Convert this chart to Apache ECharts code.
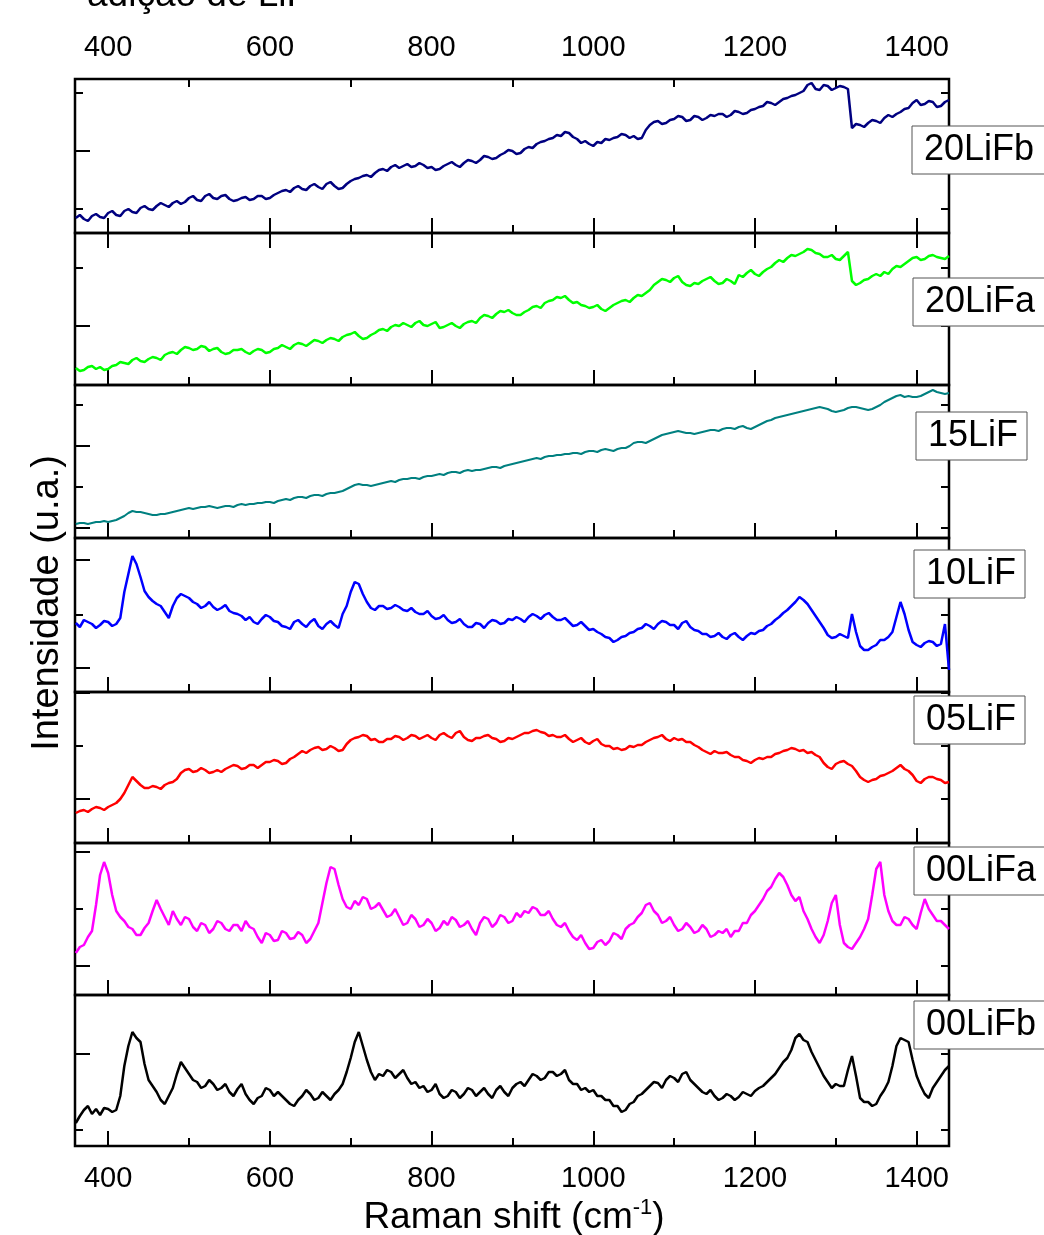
<!DOCTYPE html>
<html>
<head>
<meta charset="utf-8">
<script src="https://cdn.jsdelivr.net/npm/echarts@6/dist/echarts.min.js"></script>
<style>
    html, body { margin: 0; padding: 0; background: #fff; }
    #chart { width: 1044px; height: 1235px; }
</style>
</head>
<body>
<div id="chart"></div>
<script>
// Raman shift (cm-1), shared by all spectra
var shift = [
    360,365,370,375,380,385,390,395,400,405,410,415,420,425,430,435,440,445,450,455,
    460,465,470,475,480,485,490,495,500,505,510,515,520,525,530,535,540,545,550,555,
    560,565,570,575,580,585,590,595,600,605,610,615,620,625,630,635,640,645,650,655,
    660,665,670,675,680,685,690,695,700,705,710,715,720,725,730,735,740,745,750,755,
    760,765,770,775,780,785,790,795,800,805,810,815,820,825,830,835,840,845,850,855,
    860,865,870,875,880,885,890,895,900,905,910,915,920,925,930,935,940,945,950,955,
    960,965,970,975,980,985,990,995,1000,1005,1010,1015,1020,1025,1030,1035,1040,1045,1050,1055,
    1060,1065,1070,1075,1080,1085,1090,1095,1100,1105,1110,1115,1120,1125,1130,1135,1140,1145,1150,1155,
    1160,1165,1170,1175,1180,1185,1190,1195,1200,1205,1210,1215,1220,1225,1230,1235,1240,1245,1250,1255,
    1260,1265,1270,1275,1280,1285,1290,1295,1300,1305,1310,1315,1320,1325,1330,1335,1340,1345,1350,1355,
    1360,1365,1370,1375,1380,1385,1390,1395,1400,1405,1410,1415,1420,1425,1430,1435,1440
];

// intensities (u.a.), one list per sample; each panel has its own scale
var i20LiFb = [
    15,18,14,12,17,19,16,15,20,22,18,17,22,24,21,20,25,27,24,23,
    27,30,28,26,30,32,29,31,35,37,33,32,37,39,35,34,37,38,34,32,
    33,35,36,33,34,37,37,34,35,38,40,42,43,41,45,47,44,43,47,49,
    46,44,49,51,47,44,45,49,52,54,55,57,58,56,60,63,64,62,66,68,
    65,67,69,66,67,70,68,65,66,63,64,67,69,71,68,66,70,73,72,70,
    73,77,76,74,75,78,80,83,82,79,80,84,86,85,89,91,92,94,95,98,
    97,101,100,96,94,90,92,89,87,91,90,94,93,95,96,99,98,95,97,94,
    95,103,108,111,112,109,110,113,114,117,116,112,113,117,116,113,115,118,117,119,
    119,116,118,122,121,119,120,123,124,126,127,131,130,128,131,134,135,137,138,140,
    142,148,150,144,143,148,147,143,145,147,146,144,105,109,108,106,110,113,112,110,
    115,118,116,119,121,124,125,130,133,128,129,132,131,126,127,131,133
];
var i20LiFa = [
    17,14,15,18,19,16,18,15,16,19,20,23,22,21,25,27,24,23,26,28,
    27,25,30,32,33,31,35,38,37,35,36,39,38,34,36,37,33,31,32,35,
    35,36,33,31,34,36,35,32,33,36,37,40,38,36,40,42,41,39,42,45,
    44,42,45,47,46,44,48,50,51,53,49,46,47,50,52,55,56,54,58,60,
    59,62,60,58,62,64,60,59,61,63,57,58,60,62,59,57,61,63,64,62,
    67,70,69,67,71,74,73,75,72,70,70,73,75,78,79,77,82,84,85,88,
    87,89,85,82,83,80,79,77,78,80,76,74,77,80,82,84,85,83,87,90,
    89,92,95,100,103,106,105,103,107,109,103,100,99,102,101,104,106,108,104,101,
    102,106,104,101,110,108,112,115,111,109,113,116,118,122,125,123,127,130,129,131,
    133,136,135,132,131,128,128,130,126,125,129,133,104,100,102,105,106,109,111,109,
    113,111,116,119,118,121,124,127,128,125,126,129,130,128,127,126,129
];
var i15LiF = [
    14,15,15,14,15,16,16,17,16,17,18,20,22,25,27,26,26,25,24,23,
    23,24,24,25,26,27,28,29,30,29,30,31,31,32,31,30,31,32,32,31,
    33,34,33,34,34,35,35,36,36,35,37,38,39,38,40,41,41,40,42,43,
    43,42,44,45,45,46,47,49,51,53,54,53,53,52,53,54,55,56,57,56,
    58,59,59,60,60,59,61,62,62,63,64,63,65,66,66,65,67,68,67,68,
    68,69,70,71,71,70,72,73,74,75,76,77,78,79,80,79,81,82,82,83,
    83,84,84,85,85,84,86,87,87,86,88,89,88,87,89,90,90,92,95,96,
    96,95,97,99,101,103,104,105,106,107,106,105,105,104,105,106,107,108,108,107,
    109,110,110,109,111,112,110,109,111,113,115,117,118,120,121,122,123,124,125,126,
    127,128,129,130,131,130,129,127,126,127,128,130,131,131,130,129,128,129,131,133,
    136,138,140,142,143,141,142,141,141,142,144,146,148,146,145,144,145
];
var i10LiF = [
    69,65,72,70,68,64,67,71,70,66,68,74,100,118,136,128,115,101,95,91,
    88,86,80,74,86,94,98,96,94,90,88,84,86,90,85,82,84,87,81,79,
    78,76,72,75,70,68,73,77,75,71,70,66,65,63,70,72,68,65,70,73,
    66,63,68,71,67,64,78,86,100,110,108,98,90,84,82,86,86,83,84,87,
    85,82,81,84,80,78,78,81,76,73,74,77,72,69,70,73,68,65,65,69,
    68,64,69,72,71,68,69,73,72,75,73,70,75,78,76,73,77,79,75,72,
    72,74,70,66,67,70,66,62,63,60,58,55,54,50,52,55,56,59,60,63,
    64,68,66,63,68,71,70,67,67,63,69,71,65,62,61,58,58,55,56,59,
    55,53,57,59,55,52,56,59,58,61,62,66,68,72,75,79,82,86,90,95,
    92,88,82,76,70,64,57,54,55,58,56,54,78,60,46,42,42,45,47,52,
    52,55,60,75,90,78,62,50,47,45,49,51,50,46,48,68,22
];
var i05LiF = [
    30,32,33,31,34,36,35,33,36,38,40,44,50,58,66,62,58,55,55,57,
    56,54,58,60,61,64,70,73,74,71,72,75,73,70,71,73,71,74,76,78,
    77,74,75,78,78,75,78,81,81,83,82,79,80,84,86,89,92,90,93,95,
    96,93,94,97,95,92,93,99,103,105,106,108,107,103,104,101,101,104,104,107,
    106,103,105,108,107,104,106,108,105,103,108,110,107,105,110,112,106,103,102,105,
    105,107,108,105,104,101,102,105,104,106,108,110,110,112,113,111,110,107,108,106,
    106,108,104,101,103,105,101,99,102,104,99,97,97,94,95,93,94,97,96,98,
    98,101,103,105,106,108,104,102,105,103,104,101,101,98,96,93,91,89,92,90,
    90,91,88,86,86,83,82,80,83,85,84,86,86,89,90,92,93,95,94,92,
    93,90,91,88,86,80,76,74,79,81,82,79,77,72,66,63,61,63,64,67,
    68,70,72,75,78,74,72,68,62,60,64,66,66,64,63,60,61
];
var i00LiFa = [
    42,48,50,58,64,90,120,133,122,100,84,78,74,68,66,60,60,67,72,84,
    95,86,78,70,84,76,70,78,76,68,64,72,70,62,66,74,72,66,64,70,
    70,64,74,68,66,58,52,62,60,54,55,64,62,56,57,63,60,52,56,64,
    72,92,112,128,126,110,96,88,86,94,90,98,96,86,88,92,85,78,80,86,
    78,70,72,80,76,68,70,76,72,64,67,74,70,78,75,68,70,74,66,60,
    72,78,76,68,72,80,78,72,74,82,78,84,82,88,86,80,80,84,76,70,
    68,72,64,58,55,60,52,46,47,53,55,50,54,62,60,56,66,70,72,78,
    82,90,92,84,80,72,74,78,70,64,66,72,68,62,64,70,66,58,60,64,
    62,66,58,64,64,72,72,80,84,90,96,104,108,116,122,118,110,100,94,98,
    84,76,66,58,52,60,74,92,100,70,52,48,46,52,58,66,76,100,126,133,
    100,84,74,70,70,78,76,70,66,82,96,86,80,74,74,70,66
];
var i00LiFb = [
    23,30,36,40,32,37,31,38,37,34,36,50,80,100,114,108,104,82,66,60,
    54,46,42,50,58,72,84,78,72,66,64,58,60,66,62,56,58,62,54,50,
    57,62,52,46,42,48,50,58,56,50,54,50,46,42,40,46,50,56,52,46,
    48,54,50,46,52,56,62,74,88,104,114,100,86,74,66,72,70,76,74,68,
    72,76,68,62,64,58,60,54,56,62,52,48,50,56,54,48,52,58,56,50,
    54,58,52,48,56,60,54,50,58,62,64,60,66,72,70,66,68,74,74,70,
    72,76,66,62,62,56,58,54,56,50,50,46,46,40,40,34,36,42,44,50,
    52,56,60,64,63,58,66,70,68,64,72,74,66,62,58,54,52,56,50,46,
    48,52,50,46,49,54,52,50,55,58,60,64,68,72,78,84,88,96,108,112,
    106,104,94,86,78,70,64,58,62,60,60,76,90,70,48,44,44,40,42,50,
    56,64,80,100,108,106,104,86,70,60,52,48,58,64,70,76,80
];

var sampleNames = ['20LiFb', '20LiFa', '15LiF', '10LiF', '05LiF', '00LiFa', '00LiFb'];
var sampleData = [i20LiFb, i20LiFa, i15LiF, i10LiF, i05LiF, i00LiFa, i00LiFb];
var sampleColors = ['#000080', '#00ff00', '#008080', '#0000ff', '#ff0000', '#ff00ff', '#000000'];

// x ticks
var xMajorTicks = [400, 600, 800, 1000, 1200, 1400];
var xMinorTicks = [500, 700, 900, 1100, 1300];
// y ticks per panel (same units as the intensities)
var yMajorTicks = [[82], [59], [10, 92], [24, 132], [44, 150], [29, 143], [92]];
var yMinorTicks = [[24, 140], [117], [51, 133], [77], [97], [86], [16]];

// panel layout
var panelTop = [79, 233, 385, 538, 692, 843, 995];
var panelHeight = [154, 152, 153, 154, 151, 152, 151];
var boxLeft = [912, 913, 916, 914, 914, 914, 914];
var boxTop = [126, 278, 412, 550, 696, 847, 1001];

var FONT = '"Liberation Sans", Arial, sans-serif';
var tickStyle = { color: '#000', width: 2 };

var grids = [], xAxes = [], yAxes = [], series = [], graphics = [];

sampleNames.forEach(function (name, i) {
    grids.push({
        left: 75, width: 874, top: panelTop[i], height: panelHeight[i],
        show: true, borderColor: '#000', borderWidth: 2.5, backgroundColor: 'transparent'
    });

    function xAxis(position, ticks, len, labels) {
        return {
            gridIndex: i, type: 'value', position: position, min: 359, max: 1440,
            axisLine: { show: false }, splitLine: { show: false },
            axisTick: { inside: true, length: len, customValues: ticks, lineStyle: tickStyle },
            axisLabel: {
                show: labels, customValues: ticks, fontSize: 29, color: '#000',
                fontFamily: FONT, margin: position === 'top' ? 17 : 18,
                formatter: function (v) { return String(v); }
            }
        };
    }
    var xIndex = xAxes.length;
    xAxes.push(xAxis('bottom', xMajorTicks, 15, i === sampleNames.length - 1));
    xAxes.push(xAxis('bottom', xMinorTicks, 8, false));
    if (i === 0) {
        xAxes.push(xAxis('top', xMajorTicks, 15, true));
        xAxes.push(xAxis('top', xMinorTicks, 8, false));
    }

    function yAxis(position, ticks, len) {
        return {
            gridIndex: i, type: 'value', position: position, min: 0, max: panelHeight[i],
            axisLine: { show: false }, splitLine: { show: false }, axisLabel: { show: false },
            axisTick: { inside: true, length: len, customValues: ticks, lineStyle: tickStyle }
        };
    }
    var yIndex = yAxes.length;
    yAxes.push(yAxis('left', yMajorTicks[i], 15));
    yAxes.push(yAxis('left', yMinorTicks[i], 8));
    yAxes.push(yAxis('right', yMajorTicks[i].concat(yMinorTicks[i]), 8));

    series.push({
        name: name, type: 'line', xAxisIndex: xIndex, yAxisIndex: yIndex,
        data: shift.map(function (w, k) { return [w, sampleData[i][k]]; }),
        showSymbol: false, symbol: 'none', clip: true,
        lineStyle: { color: sampleColors[i], width: i === 2 ? 2 : 2.5 },
        z: 1
    });

    graphics.push({
        type: 'rect', z: 100,
        shape: { x: boxLeft[i], y: boxTop[i], width: name.length > 5 ? 140 : 111, height: 48 },
        style: { fill: '#fff', stroke: '#555', lineWidth: 1 }
    });
    graphics.push({
        type: 'text', z: 101, x: boxLeft[i] + 12, y: boxTop[i] + 24,
        style: { text: name, font: '36px ' + FONT, fill: '#000', verticalAlign: 'middle', align: 'left' }
    });
});

// partial title, cut by the top edge
graphics.push({
    type: 'text', x: 87, y: 14,
    style: { text: 'adição de LiF', font: '37px ' + FONT, fill: '#000', verticalAlign: 'bottom', align: 'left' }
});
// axis names
graphics.push({
    type: 'text', x: 48, y: 603, rotation: Math.PI / 2,
    style: { text: 'Intensidade (u.a.)', font: '38px ' + FONT, fill: '#000', align: 'center', verticalAlign: 'middle' }
});
graphics.push({
    type: 'text', x: 514, y: 1218,
    style: {
        text: '{a|Raman shift (cm}{b|-1}{a|)}', align: 'center', verticalAlign: 'middle',
        rich: {
            a: { fontSize: 37, fontFamily: FONT, fill: '#000', lineHeight: 42 },
            b: { fontSize: 22, fontFamily: FONT, fill: '#000', lineHeight: 22, verticalAlign: 'top' }
        }
    }
});

var chart = echarts.init(document.getElementById('chart'), null, { renderer: 'canvas' });
chart.setOption({
    animation: false,
    backgroundColor: '#fff',
    grid: grids,
    xAxis: xAxes,
    yAxis: yAxes,
    series: series,
    graphic: graphics
});
</script>
</body>
</html>
